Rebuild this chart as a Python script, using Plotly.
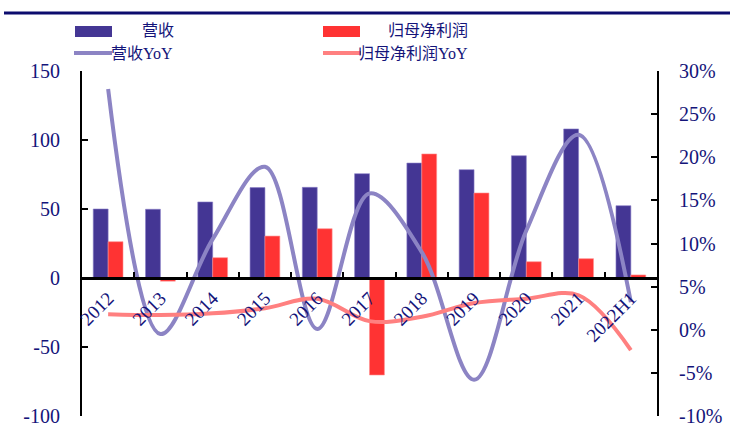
import plotly.graph_objects as go

# Data
years = ["2012", "2013", "2014", "2015", "2016", "2017", "2018", "2019", "2020", "2021", "2022H1"]
revenue = [50.0, 49.8, 55.1, 65.5, 65.7, 75.6, 83.3, 78.5, 88.6, 108.0, 52.4]
net_profit = [26.3, -2.3, 14.7, 30.4, 35.7, -70.3, 89.9, 61.6, 11.8, 14.0, 2.2]
revenue_yoy = [0.279, -0.005, 0.105, 0.189, 0.001, 0.158, 0.090, -0.058, 0.115, 0.226, 0.032]
profit_yoy = [0.018, 0.017, 0.019, 0.025, 0.036, 0.010, 0.015, 0.031, 0.036, 0.040, -0.0235]

left_ticks = [-100, -50, 0, 50, 100, 150]
left_labels = ["-100", "-50", "0", "50", "100", "150"]
right_ticks = [-0.10, -0.05, 0.0, 0.05, 0.10, 0.15, 0.20, 0.25, 0.30]
right_labels = ["-10%", "-5%", "0%", "5%", "10%", "15%", "20%", "25%", "30%"]

NAVY = "#14147a"
BLUE = "#443694"
RED = "#ff3333"
PURPLE = "#8c84c4"
PINK = "#ff8080"
FONT = "Liberation Serif, Noto Sans CJK SC, serif"

W, H = 730, 428
L, R, T, B = 82, 657, 71, 416


def px(x):
    return (x - L) / (R - L)


def py(y):
    return (B - y) / (B - T)


fig = go.Figure()
fig.add_trace(go.Bar(x=years, y=revenue, name="营收", marker_color=BLUE,
                     marker_line=dict(width=0.6, color="#8a80c8"), yaxis="y"))
fig.add_trace(go.Bar(x=years, y=net_profit, name="归母净利润", marker_color=RED,
                     marker_line=dict(width=0.6, color="#ff9090"), yaxis="y"))
fig.add_trace(go.Scatter(x=years, y=revenue_yoy, name="营收YoY", mode="lines",
                         line=dict(color=PURPLE, width=4, shape="spline", smoothing=1.0),
                         yaxis="y2"))
fig.add_trace(go.Scatter(x=years, y=profit_yoy, name="归母净利润YoY", mode="lines",
                         line=dict(color=PINK, width=4, shape="spline", smoothing=1.0),
                         yaxis="y2"))

shapes = []
annotations = []

# header rule
shapes.append(dict(type="line", xref="paper", yref="paper", x0=px(4), x1=px(730),
                   y0=py(13), y1=py(13), line=dict(color="#0c0c6e", width=3)))

# legend, drawn by hand
legend_rows = [
    ("rect", BLUE, 75, 112, "营收", 176, 31),
    ("rect", RED, 323, 360, "归母净利润", 470, 31),
    ("line", PURPLE, 74, 112, "营收YoY", 175, 54),
    ("line", PINK, 323, 361, "归母净利润YoY", 470, 54),
]
for kind, color, x0, x1, label, tx, ty in legend_rows:
    if kind == "rect":
        shapes.append(dict(type="rect", xref="paper", yref="paper", x0=px(x0), x1=px(x1),
                           y0=py(37), y1=py(26), fillcolor=color, line=dict(width=0)))
    else:
        shapes.append(dict(type="line", xref="paper", yref="paper", x0=px(x0), x1=px(x1),
                           y0=py(53), y1=py(53), line=dict(color=color, width=4)))
    annotations.append(dict(text=label, xref="paper", yref="paper", x=px(tx), y=py(ty),
                            xanchor="right", yanchor="middle", showarrow=False,
                            font=dict(family=FONT, size=16, color=NAVY)))

fig.update_layout(
    width=W, height=H,
    margin=dict(l=L, r=W - R, t=T, b=H - B, pad=0, autoexpand=False),
    paper_bgcolor="white", plot_bgcolor="white",
    barmode="group", bargap=0.43, bargroupgap=0,
    showlegend=False,
    shapes=shapes, annotations=annotations,
    font=dict(family=FONT, color=NAVY),
    xaxis=dict(type="category", anchor="free", position=0.4, automargin=False,
               showline=True, linecolor="black", linewidth=2.5,
               ticks="inside", tickson="boundaries", ticklen=5, tickwidth=1.5, tickcolor="black",
               tickangle=-45, tickfont=dict(family=FONT, size=19, color=NAVY),
               showgrid=False, zeroline=False),
    yaxis=dict(range=[-100, 150], tickmode="array", tickvals=left_ticks, ticktext=left_labels,
               automargin=False, showline=True, linecolor="black", linewidth=2,
               ticks="inside", ticklen=6, tickwidth=2, tickcolor="black",
               ticklabelstandoff=16,
               tickfont=dict(family=FONT, size=20, color=NAVY),
               showgrid=False, zeroline=False),
    yaxis2=dict(range=[-0.10, 0.30], tickmode="array", tickvals=right_ticks, ticktext=right_labels,
                overlaying="y", side="right", automargin=False,
                showline=True, linecolor="black", linewidth=2,
                ticks="inside", ticklen=6, tickwidth=2, tickcolor="black",
                ticklabelstandoff=16,
                tickfont=dict(family=FONT, size=20, color=NAVY),
                showgrid=False, zeroline=False),
)

fig.write_html("out.html")
